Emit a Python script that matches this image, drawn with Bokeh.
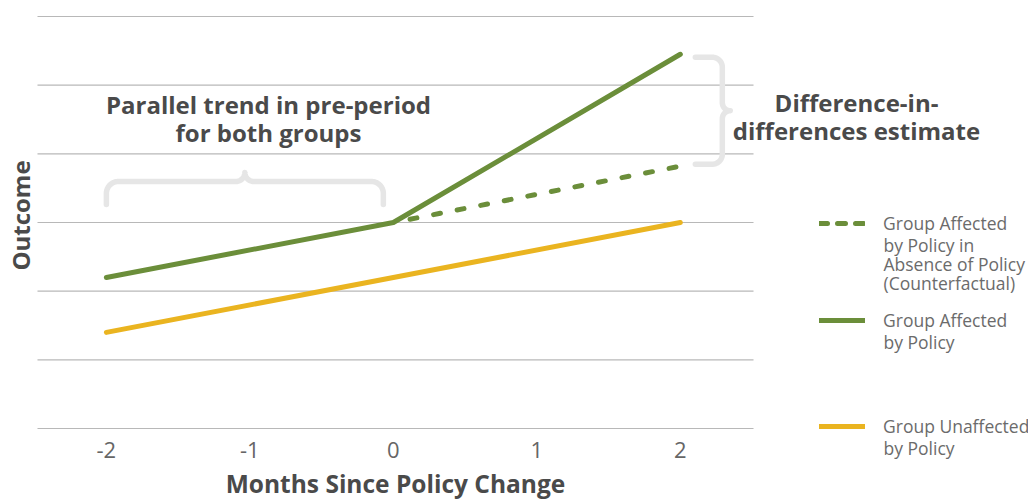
import numpy as np
from bokeh.plotting import figure
from bokeh.models import Label, Legend, LegendItem, FixedTicker, Range1d
from bokeh.embed import file_html
from bokeh.resources import INLINE

# ---- data -------------------------------------------------------------
months = [-2, 0, 2]
affected = [2.2, 3.0, 5.45]            # group affected by policy
counterfactual_months = [0, 2]
counterfactual = [3.0, 3.82]           # affected group without the policy
unaffected = [1.4, 2.2, 3.0]           # group unaffected by policy
x_ticks = [-2, -1, 0, 1, 2]
x_tick_labels = ["-2", "-1", "0", "1", "2"]
y_grid = [0, 1, 2, 3, 4, 5, 6]
x_extent = [-2.48, 2.51]               # horizontal span of the plotting area

key_labels = [
    ["Group Affected", "by Policy in", "Absence of Policy", "(Counterfactual)"],
    ["Group Affected", "by Policy"],
    ["Group Unaffected", "by Policy"],
]

# ---- styling ----------------------------------------------------------
GREEN = "#6B8E3A"
GOLD = "#EAB420"
BRACE = "#E6E6E6"
GRID = "#B8B8B8"
DARK = "#4A4A4A"
MID = "#666666"
KEY_TEXT = "#6B6B6B"
FONT = "Open Sans"

W, H = 1028, 499
GRID_LEFT_PX, GRID_RIGHT_PX = 37, 753
GRID_TOP_PX, GRID_BOTTOM_PX = 16, 428
BASELINE_SHIFT = 8.5   # alphabetic labels sit this far below their anchor

SX = (GRID_RIGHT_PX - GRID_LEFT_PX) / (x_extent[1] - x_extent[0])
SY = (GRID_BOTTOM_PX - GRID_TOP_PX) / (y_grid[-1] - y_grid[0])
X0 = x_extent[0] - GRID_LEFT_PX / SX
X1 = X0 + W / SX
Y1 = y_grid[-1] + GRID_TOP_PX / SY
Y0 = Y1 - H / SY

p = figure(
    frame_width=W, frame_height=H,
    x_range=Range1d(X0, X1), y_range=Range1d(Y0, Y1),
    output_backend="svg", toolbar_location=None,
    min_border_left=0, min_border_right=0,
    min_border_top=0, min_border_bottom=0,
    background_fill_color="white", border_fill_color="white",
)
p.outline_line_color = None


def px_x(px):
    return X0 + px / SX


def px_y(py):
    return Y1 - py / SY


# ---- axes & grid ------------------------------------------------------
p.yaxis.visible = False
p.xgrid.visible = False
p.ygrid.visible = False

# horizontal rules, limited to the plotting area
p.segment(x0=[x_extent[0]] * len(y_grid), x1=[x_extent[1]] * len(y_grid),
          y0=y_grid, y1=y_grid, line_color=GRID, line_width=1.2)

xa = p.xaxis[0]
xa.fixed_location = y_grid[0]
xa.bounds = tuple(x_extent)
xa.ticker = FixedTicker(ticks=x_ticks)
xa.major_label_overrides = dict(zip(x_ticks, x_tick_labels))
xa.axis_line_color = None
xa.major_tick_line_color = None
xa.minor_tick_line_color = None
xa.major_label_text_font = FONT
xa.major_label_text_font_size = "22px"
xa.major_label_text_color = MID
xa.major_label_standoff = 7


def bold_text(text, x_px, y_px, align="center", baseline="alphabetic", angle=0.0,
              size="24px"):
    if baseline == "alphabetic":
        y_px -= BASELINE_SHIFT
    p.add_layout(Label(
        x=px_x(x_px), y=px_y(y_px), text=text, angle=angle,
        text_align=align, text_baseline=baseline,
        text_font=FONT, text_font_style="bold", text_font_size=size,
        text_color=DARK,
    ))


bold_text("Months Since Policy Change", 395, 491, size="24.5px")
bold_text("Outcome", 20, 215, baseline="middle", angle=np.pi / 2)


# ---- braces -----------------------------------------------------------
def brace(length, depth, r, r2, n=24):
    """Curly brace profile: u runs along the brace, v away from its ends."""
    t1 = np.linspace(np.pi, np.pi / 2, n)
    t2 = np.linspace(-np.pi / 2, 0, n)
    u = np.concatenate([[0.0], r + r * np.cos(t1), length / 2 - r2 + r2 * np.cos(t2)])
    v = np.concatenate([[0.0], depth - r + r * np.sin(t1), depth + r2 + r2 * np.sin(t2)])
    u = np.concatenate([u, (length - u)[::-1]])
    v = np.concatenate([v, v[::-1]])
    return u, v


# pre-period brace over the two parallel segments, cusp pointing up
hb_left = months[0]
hb_right = months[1] - 10 / SX
hb_base = affected[1] + 18 / SY
u, v = brace((hb_right - hb_left) * SX, 23, 12, 9)
p.line(hb_left + u / SX, hb_base + v / SY, line_color=BRACE, line_width=5.5,
       line_cap="round", line_join="round")

# post-period brace spanning the gap between actual and counterfactual
vb_top = affected[-1] - 3 / SY
vb_bottom = counterfactual[-1] + 2 / SY
vb_base = months[-1] + 15 / SX
u, v = brace((vb_top - vb_bottom) * SY, 27, 10, 8)
p.line(vb_base + v / SX, vb_top - u / SY, line_color=BRACE, line_width=5.5,
       line_cap="round", line_join="round")

# ---- series -----------------------------------------------------------
r_unaff = p.line(months, unaffected, line_color=GOLD, line_width=5,
                 line_cap="round", line_join="round")
r_cf = p.line(counterfactual_months, counterfactual, line_color=GREEN, line_width=5,
              line_dash="7 17", line_dash_offset=7, line_cap="round")
r_aff = p.line(months, affected, line_color=GREEN, line_width=5,
               line_cap="round", line_join="round")
# key swatch for the counterfactual uses a tighter dash (not drawn in the plot)
r_cf_key = p.line(counterfactual_months, counterfactual, line_color=GREEN, line_width=5,
                  line_dash="8 10", line_cap="round", visible=False)

# ---- annotations ------------------------------------------------------
bold_text("Parallel trend in pre-period", 268, 112)
bold_text("for both groups", 268, 140)
bold_text("Difference-in-", 856, 110)
bold_text("differences estimate", 856, 138)

# ---- key ----------------------------------------------------------------
KEY_SIZE = "17.5px"
ROW_H = 20
LINE_STEP = 19.3


def add_key(renderer, lines, swatch_left_px, center_px):
    lg = Legend(
        items=[LegendItem(label=lines[0], renderers=[renderer])],
        location=(swatch_left_px, H - center_px - ROW_H / 2),
        orientation="vertical",
        glyph_width=46, glyph_height=ROW_H,
        label_standoff=18, padding=0, margin=0, spacing=0,
        border_line_color=None, background_fill_alpha=0,
        label_text_font=FONT, label_text_font_size=KEY_SIZE,
        label_text_color=KEY_TEXT, label_height=ROW_H,
    )
    p.add_layout(lg, "center")
    for i, line in enumerate(lines[1:], start=1):
        p.add_layout(Label(
            x=px_x(883), y=px_y(center_px + i * LINE_STEP), text=line,
            text_align="left", text_baseline="middle",
            text_font=FONT, text_font_size=KEY_SIZE, text_color=KEY_TEXT,
        ))


add_key(r_cf_key, key_labels[0], 819, 225)
add_key(r_aff, key_labels[1], 819, 322)
add_key(r_unaff, key_labels[2], 819, 428)

open("out.html", "w").write(file_html(p, INLINE))
